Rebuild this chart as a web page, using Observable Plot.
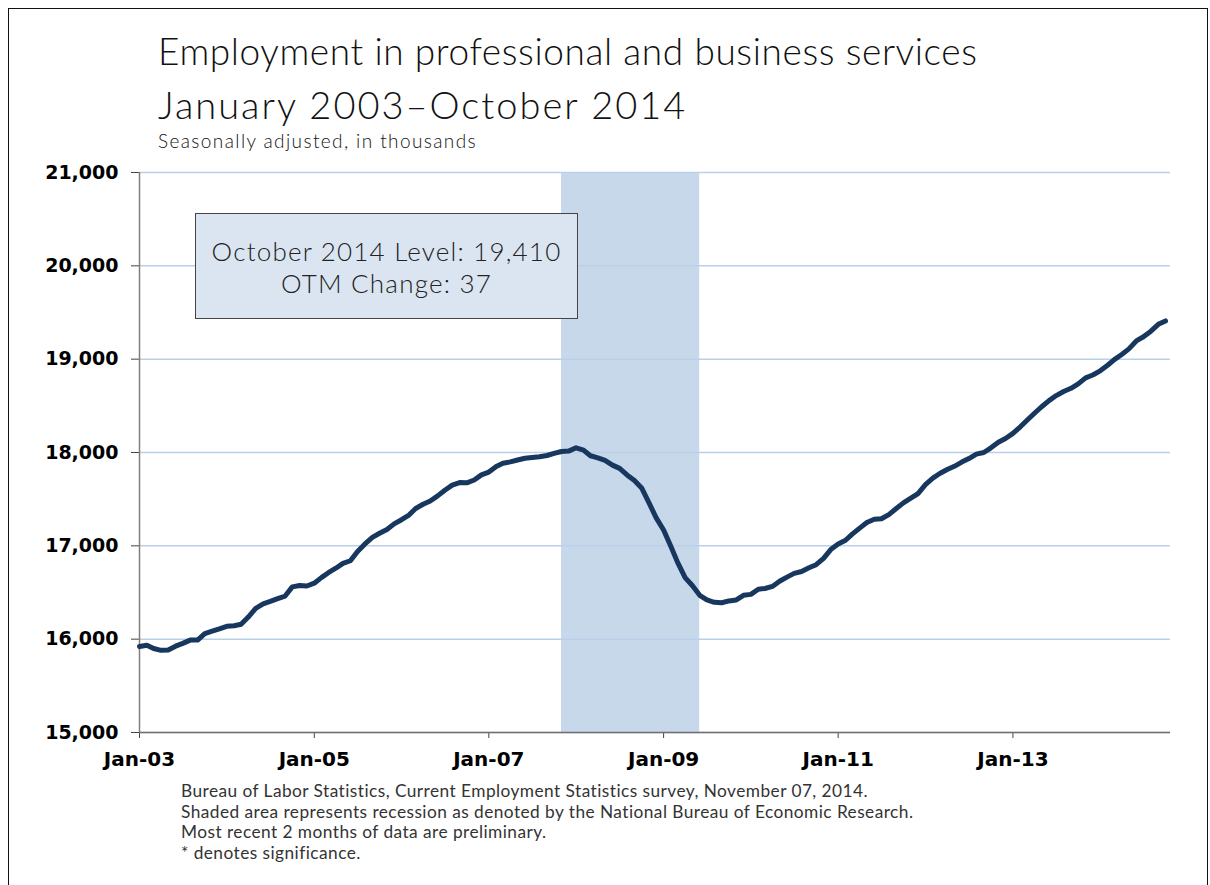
<!DOCTYPE html>
<html><head><meta charset="utf-8">
<script src="https://cdn.jsdelivr.net/npm/d3@7"></script>
<script src="https://cdn.jsdelivr.net/npm/@observablehq/plot@0.6"></script>
<style>
body{margin:0;background:#fff;}
#page{position:relative;width:1210px;height:885px;overflow:hidden;background:#fff;}
#frame{position:absolute;left:8px;top:8px;width:1200px;height:920px;border:1.5px solid #111;box-sizing:border-box;}
.t{position:absolute;left:158px;font-family:Lato,sans-serif;font-weight:300;color:#111;white-space:nowrap;}
#title1{top:32px;font-size:37px;line-height:37px;letter-spacing:0.6px;}
#title2{top:85px;font-size:38px;line-height:38px;letter-spacing:2px;}
#sub{top:131px;font-size:19px;line-height:19px;font-weight:300;letter-spacing:1.4px;color:#111;}
#chart{position:absolute;left:0;top:155px;}
#box{position:absolute;left:195px;top:213px;width:383px;height:106px;box-sizing:border-box;border:1.3px solid #444;background:#dbe5f1;text-align:center;font-family:Lato,sans-serif;font-weight:300;font-size:26px;line-height:32px;letter-spacing:1.2px;color:#222;padding-top:21px;}
#notes{position:absolute;left:181px;top:781px;font-family:Lato,sans-serif;font-weight:400;font-size:17.3px;line-height:20.7px;letter-spacing:0.45px;color:#333;white-space:nowrap;}
</style>
</head><body>
<div id="page">
  <div id="frame"></div>
  <div class="t" id="title1">Employment in professional and business services</div>
  <div class="t" id="title2">January 2003–October 2014</div>
  <div class="t" id="sub">Seasonally adjusted, in thousands</div>
  <div id="chart"></div>
  <div id="box"></div>
  <div id="notes"></div>
</div>
<script>
// ---- data ----
const firstMonth = "2003-01-01";
const employment = [
  // 2003
  15921, 15935, 15900, 15880, 15885, 15925, 15955, 15990, 15990, 16060, 16085, 16110,
  // 2004
  16138, 16144, 16160, 16240, 16330, 16378, 16405, 16435, 16462, 16560, 16575, 16570,
  // 2005
  16600, 16662, 16712, 16760, 16812, 16840, 16940, 17020, 17090, 17135, 17175, 17235,
  // 2006
  17280, 17330, 17400, 17445, 17480, 17535, 17595, 17650, 17678, 17675, 17705, 17760,
  // 2007
  17790, 17850, 17885, 17900, 17920, 17938, 17946, 17955, 17968, 17990, 18011, 18015,
  // 2008
  18050, 18025, 17965, 17942, 17915, 17865, 17830, 17760, 17700, 17620, 17460, 17300,
  // 2009
  17170, 16990, 16820, 16660, 16575, 16470, 16420, 16395, 16390, 16410, 16420, 16470,
  // 2010
  16480, 16535, 16543, 16565, 16620, 16665, 16705, 16725, 16765, 16798, 16865, 16960,
  // 2011
  17020, 17060, 17125, 17190, 17250, 17285, 17290, 17335, 17400, 17460, 17510, 17560,
  // 2012
  17655, 17725, 17775, 17818, 17852, 17897, 17935, 17982, 18000, 18050, 18110, 18150,
  // 2013
  18205, 18275, 18345, 18420, 18490, 18556, 18610, 18654, 18688, 18735, 18800, 18830,
  // 2014 (Jan-Oct)
  18875, 18935, 18995, 19050, 19110, 19195, 19240, 19300, 19373, 19410
];
const recessionStart = "2007-11-01";
const recessionEnd = "2009-06-01";
const yTicks = [15000, 16000, 17000, 18000, 19000, 20000, 21000];
const xTickLabels = ["Jan-03", "Jan-05", "Jan-07", "Jan-09", "Jan-11", "Jan-13"];
const xTickDates = ["2003-01-01", "2005-01-01", "2007-01-01", "2009-01-01", "2011-01-01", "2013-01-01"];
const boxLines = ["October 2014 Level: 19,410", "OTM Change: 37"];
const notes = [
  "Bureau of Labor Statistics, Current Employment Statistics survey, November 07, 2014.",
  "Shaded area represents recession as denoted by the National Bureau of Economic Research.",
  "Most recent 2 months of data are preliminary.",
  "* denotes significance."
];

// ---- build ----
const start = new Date(firstMonth);
const data = employment.map((v, i) => ({date: d3.utcMonth.offset(start, i), value: v}));
const tickDates = xTickDates.map(d => new Date(d));
const labelOf = new Map(tickDates.map((d, i) => [+d, xTickLabels[i]]));
const recession = [{x1: new Date(recessionStart), x2: new Date(recessionEnd)}];

const chart = Plot.plot({
  width: 1210,
  height: 627,
  marginTop: 17,
  marginBottom: 50,
  marginLeft: 139,
  marginRight: 40,
  style: {fontFamily: "DejaVu Sans, sans-serif", background: "transparent", overflow: "visible"},
  x: {type: "utc", domain: [start, new Date("2014-10-22")]},
  y: {domain: [15000, 21000]},
  marks: [
    Plot.rect(recession, {x1: "x1", x2: "x2", fill: "#c8d8eb"}),
    Plot.gridY(yTicks, {stroke: "#bad0ea", strokeOpacity: 1, strokeWidth: 1.5}),
    Plot.axisY(yTicks, {
      tickSize: 8, tickPadding: 13, tickFormat: d3.format(","),
      fontSize: 19, fontWeight: "bold", fill: "#000", stroke: "#444", label: null
    }),
    Plot.axisX(tickDates, {
      tickSize: 6, tickPadding: 13, tickFormat: d => labelOf.get(+d),
      fontSize: 20, fontWeight: "bold", fill: "#000", stroke: "#444", label: null
    }),
    Plot.ruleX([start], {stroke: "#7f7f7f", strokeWidth: 1.5}),
    Plot.ruleY([15000], {stroke: "#6f6f6f", strokeWidth: 1.5}),
    Plot.line(data, {
      x: "date", y: "value", stroke: "#17375e", strokeWidth: 5,
      strokeLinejoin: "round", strokeLinecap: "round"
    })
  ]
});
document.getElementById("chart").appendChild(chart);
document.getElementById("box").innerHTML = boxLines.map(s => `<div>${s}</div>`).join("");
document.getElementById("notes").innerHTML = notes.map(s => `<div>${s}</div>`).join("");
</script>
</body></html>
